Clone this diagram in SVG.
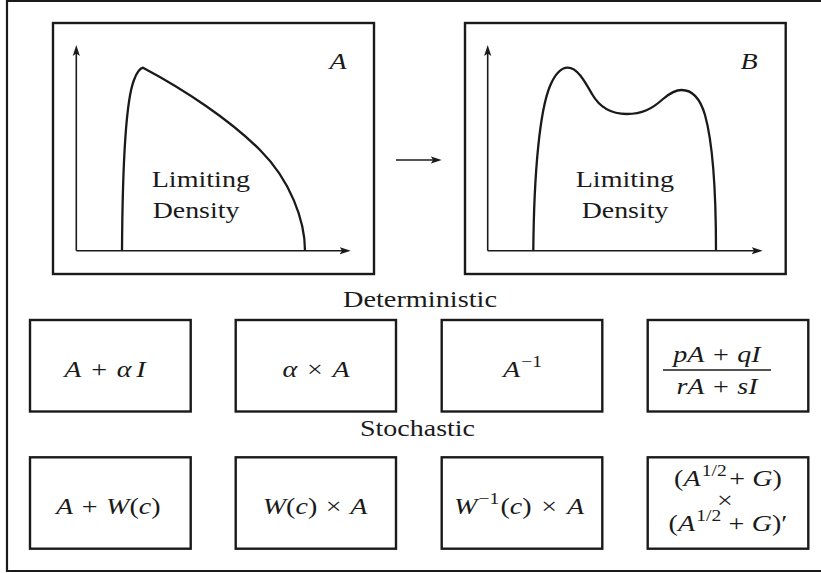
<svg xmlns="http://www.w3.org/2000/svg" width="821" height="573" viewBox="0 0 821 573">
  <defs>
    <style>
      .frame { fill: none; stroke: #1a1a1a; stroke-width: 2.2; }
      .box { fill: #ffffff; stroke: #1a1a1a; stroke-width: 2.4; }
      .axis { fill: none; stroke: #1a1a1a; stroke-width: 1.6; marker-end: url(#ah); }
      .curve { fill: none; stroke: #1a1a1a; stroke-width: 2.3; stroke-linejoin: round; }
      .t { font-family: "Liberation Serif", "DejaVu Serif", serif; font-size: 22.5px; fill: #1a1a1a; }
      .m { font-family: "Liberation Serif", "DejaVu Serif", serif; font-size: 23px; fill: #1a1a1a; }
      .i { font-style: italic; }
      .sup { font-size: 16px; }
    </style>
    <marker id="ah" markerWidth="11" markerHeight="8" refX="6" refY="4" orient="auto" markerUnits="userSpaceOnUse">
      <path d="M0,0.4 L11,4 L0,7.6 L2.4,4 Z" fill="#1a1a1a"/>
    </marker>
  </defs>

  <rect width="821" height="573" fill="#ffffff"/>

  <!-- outer frame (right edge lies outside the picture) -->
  <path class="frame" d="M830,0.8 H7 V571 H830"/>

  <!-- plot A -->
  <g id="plotA">
    <rect class="box" x="53" y="23" width="321" height="251"/>
    <line class="axis" x1="76.3" y1="250.7" x2="76.3" y2="50"/>
    <line class="axis" x1="76.3" y1="250.7" x2="345.7" y2="250.7"/>
    <path class="curve" d="M122,250.7 C122.5,170 126,100 134,80 Q138,69 143,67.7 C185,90 230,120 260,150 C290,180 305,220 305,250.7"/>
    <text class="m i" text-anchor="middle" transform="translate(338,69) scale(1.22,1)">A</text>
    <text class="t" x="151.7" y="186.7" textLength="98.3" lengthAdjust="spacingAndGlyphs">Limiting</text>
    <text class="t" x="152.7" y="218.3" textLength="86.7" lengthAdjust="spacingAndGlyphs">Density</text>
  </g>

  <!-- plot B -->
  <g id="plotB">
    <rect class="box" x="465" y="23" width="320.7" height="251"/>
    <line class="axis" x1="487.7" y1="250.7" x2="487.7" y2="50"/>
    <line class="axis" x1="487.7" y1="250.7" x2="757.7" y2="250.7"/>
    <path class="curve" d="M533.3,250.7 C534,170 540,110 550,86 C556,72 562,67.7 567.7,67.7 C577,67.7 584,80 592,94 C600,108 612,114 626.7,114 C642,114 652,109 663,99 C670,93 676,90 681.7,90 C692,90 700,98 705,115 C712,140 716,190 716,250.7"/>
    <text class="m i" text-anchor="middle" transform="translate(749,69) scale(1.22,1)">B</text>
    <text class="t" x="575.7" y="186.7" textLength="98.3" lengthAdjust="spacingAndGlyphs">Limiting</text>
    <text class="t" x="581.7" y="218.3" textLength="86.7" lengthAdjust="spacingAndGlyphs">Density</text>
  </g>

  <!-- connectors -->
  <g id="connectors">
    <line class="axis" x1="396" y1="160" x2="436.7" y2="160"/>
  </g>

  <!-- section labels -->
  <g id="label-deterministic">
    <text class="t" x="343" y="306.5" textLength="154" lengthAdjust="spacingAndGlyphs">Deterministic</text>
  </g>
  <g id="label-stochastic">
    <text class="t" x="360" y="436" textLength="115" lengthAdjust="spacingAndGlyphs">Stochastic</text>
  </g>

  <!-- deterministic row -->
  <g id="det-shift">
    <rect class="box" x="30" y="320" width="160.7" height="91.5"/>
    <text class="m" text-anchor="middle" transform="translate(105,377) scale(1.22,1)"><tspan class="i">A</tspan><tspan dx="8">+</tspan><tspan class="i" dx="8">α</tspan><tspan class="i" dx="4">I</tspan></text>
  </g>
  <g id="det-scale">
    <rect class="box" x="235.7" y="320" width="160.3" height="91.5"/>
    <text class="m" text-anchor="middle" transform="translate(316,377) scale(1.22,1)"><tspan class="i">α</tspan><tspan dx="8">×</tspan><tspan class="i" dx="8">A</tspan></text>
  </g>
  <g id="det-inverse">
    <rect class="box" x="441.7" y="320" width="160.6" height="91.5"/>
    <text class="m" text-anchor="middle" transform="translate(522.5,377) scale(1.22,1)"><tspan class="i">A</tspan><tspan class="sup" dx="1" dy="-10">−1</tspan></text>
  </g>
  <g id="det-mobius">
    <rect class="box" x="647.7" y="320" width="160.6" height="91.5"/>
    <text class="m" text-anchor="middle" transform="translate(717,362) scale(1.22,1)"><tspan class="i">pA</tspan><tspan dx="7">+</tspan><tspan class="i" dx="7">qI</tspan></text>
    <line x1="663" y1="370" x2="771" y2="370" stroke="#1a1a1a" stroke-width="1.7"/>
    <text class="m" text-anchor="middle" transform="translate(717,394) scale(1.22,1)"><tspan class="i">rA</tspan><tspan dx="7">+</tspan><tspan class="i" dx="7">sI</tspan></text>
  </g>

  <!-- stochastic row -->
  <g id="sto-shift">
    <rect class="box" x="30" y="457.3" width="160.7" height="91.4"/>
    <text class="m" text-anchor="middle" transform="translate(108.3,514) scale(1.22,1)"><tspan class="i">A</tspan><tspan dx="7">+</tspan><tspan class="i" dx="7">W</tspan><tspan>(</tspan><tspan class="i">c</tspan><tspan>)</tspan></text>
  </g>
  <g id="sto-scale">
    <rect class="box" x="235.7" y="457.3" width="160.3" height="91.4"/>
    <text class="m" text-anchor="middle" transform="translate(315,514) scale(1.22,1)"><tspan class="i">W</tspan><tspan>(</tspan><tspan class="i">c</tspan><tspan>)</tspan><tspan dx="7">×</tspan><tspan class="i" dx="7">A</tspan></text>
  </g>
  <g id="sto-inverse">
    <rect class="box" x="441.7" y="457.3" width="160.6" height="91.4"/>
    <text class="m" text-anchor="middle" transform="translate(519,514) scale(1.22,1)"><tspan class="i">W</tspan><tspan class="sup" dx="1" dy="-10">−1</tspan><tspan dx="1" dy="10">(</tspan><tspan class="i">c</tspan><tspan>)</tspan><tspan dx="8">×</tspan><tspan class="i" dx="8">A</tspan></text>
  </g>
  <g id="sto-wishart">
    <rect class="box" x="647.7" y="457.3" width="160.6" height="91.4"/>
    <text class="m" text-anchor="middle" transform="translate(728,486) scale(1.22,1)"><tspan>(</tspan><tspan class="i">A</tspan><tspan class="sup" dx="1" dy="-10">1/2</tspan><tspan dx="2" dy="10">+</tspan><tspan class="i" dx="6">G</tspan><tspan>)</tspan></text>
    <text class="m" text-anchor="middle" transform="translate(725,508) scale(1.22,1)">×</text>
    <text class="m" text-anchor="middle" transform="translate(728,531) scale(1.22,1)"><tspan>(</tspan><tspan class="i">A</tspan><tspan class="sup" dx="1" dy="-10">1/2</tspan><tspan dx="6" dy="10">+</tspan><tspan class="i" dx="6">G</tspan><tspan>)′</tspan></text>
  </g>
</svg>
